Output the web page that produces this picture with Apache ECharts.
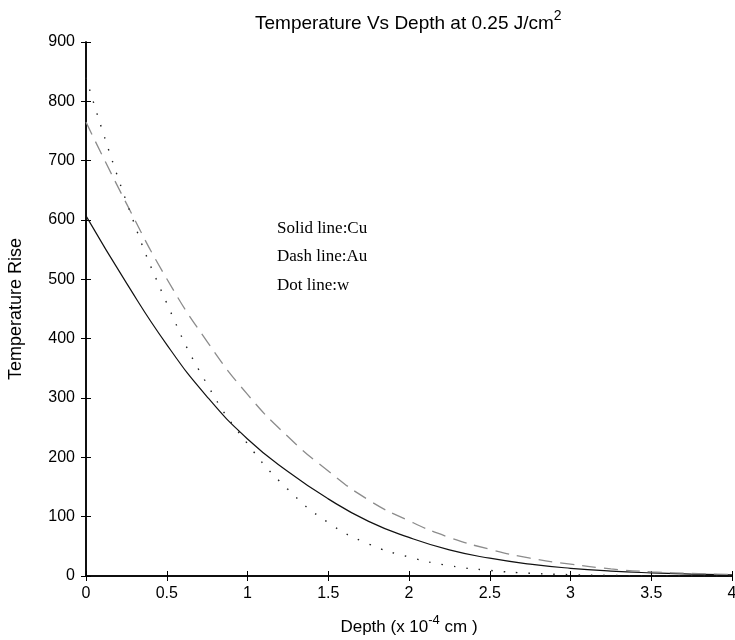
<!DOCTYPE html>
<html>
<head>
<meta charset="utf-8">
<script src="https://cdn.jsdelivr.net/npm/echarts@6/dist/echarts.min.js"></script>
<style>
  html, body { margin: 0; padding: 0; background: #fff; }
  #chart { width: 735px; height: 640px; }
</style>
</head>
<body>
<div id="chart"></div>
<script>
// depth, x 10^-4 cm
var depth = [0, 0.25, 0.5, 0.75, 1, 1.25, 1.5, 1.75, 2, 2.25, 2.5, 2.75, 3, 3.25, 3.5, 3.75, 4];
// temperature rise
var cu = [607, 494, 390, 302, 231, 176, 130, 92, 65, 44, 30, 20, 13, 8.3, 5.3, 3.3, 2];
var au = [765, 628, 501, 395, 306, 235, 177, 128, 93, 65, 45, 30, 20, 12, 7, 4.3, 2.5];
var w  = [840, 631, 460, 323, 223, 146, 90, 54, 32, 17.4, 9.4, 4.6, 2.2, 1, 0.5, 0.3, 0.2];

function pairs(ys) {
    var out = [];
    for (var i = 0; i < depth.length; i++) {
        out.push([depth[i], ys[i]]);
    }
    return out;
}

var chart = echarts.init(document.getElementById('chart'));
var font = 'Liberation Sans, Arial, sans-serif';
var tick = { show: true, inside: true, length: 5, lineStyle: { color: '#000', width: 1 } };
var line = { show: true, lineStyle: { color: '#000', width: 1.5 } };

var option = {
    animation: false,
    backgroundColor: '#fff',
    title: {
        text: '{a|Temperature Vs Depth at 0.25 J/cm}{s|2}',
        left: 250,
        top: 4,
        textStyle: {
            fontWeight: 'normal',
            rich: {
                a: { fontFamily: font, fontSize: 19, fontWeight: 'normal', color: '#000', verticalAlign: 'bottom', lineHeight: 24 },
                s: { fontFamily: font, fontSize: 14, fontWeight: 'normal', color: '#000', verticalAlign: 'top', lineHeight: 14 }
            }
        }
    },
    grid: { left: 86, right: 3, top: 42, bottom: 64, outerBoundsMode: 'none' },
    xAxis: [{
        type: 'value', min: 0, max: 4, interval: 0.5,
        axisLine: line, axisTick: tick, splitLine: { show: false },
        axisLabel: { color: '#000', fontFamily: font, fontSize: 16, margin: 10 },
        name: '{a|Depth (x 10}{s|-4}{a| cm )}',
        nameLocation: 'middle', nameGap: 38,
        nameTextStyle: {
            rich: {
                a: { fontFamily: font, fontSize: 17, color: '#000', verticalAlign: 'bottom', lineHeight: 22 },
                s: { fontFamily: font, fontSize: 13, color: '#000', verticalAlign: 'top', lineHeight: 12 }
            }
        }
    }, {
        type: 'value', min: 0, max: 4, interval: 0.5, position: 'top',
        axisLine: line, axisTick: tick, axisLabel: { show: false }, splitLine: { show: false }
    }],
    yAxis: [{
        type: 'value', min: 0, max: 900, interval: 100,
        axisLine: line, axisTick: tick, splitLine: { show: false },
        axisLabel: { color: '#000', fontFamily: font, fontSize: 16, margin: 11 },
        name: 'Temperature Rise', nameLocation: 'middle', nameGap: 61,
        nameTextStyle: { color: '#000', fontFamily: font, fontSize: 18 }
    }, {
        type: 'value', min: 0, max: 900, interval: 100, position: 'right',
        axisLine: line, axisTick: tick, axisLabel: { show: false }, splitLine: { show: false }
    }],
    graphic: [{
        type: 'text',
        left: 277,
        top: 214,
        style: {
            text: 'Solid line:Cu\nDash line:Au\nDot line:w',
            font: '17px "Liberation Serif", "Times New Roman", serif',
            fill: '#000',
            lineHeight: 28.5
        }
    }],
    series: [{
        name: 'Cu', type: 'line', data: pairs(cu), showSymbol: false,
        smooth: true,
        lineStyle: { color: '#111', width: 1.2, type: 'solid' }
    }, {
        name: 'Au', type: 'line', data: pairs(au), showSymbol: false,
        smooth: true,
        lineStyle: { color: '#8c8c8c', width: 1.3, type: [14, 8] }
    }, {
        name: 'w', type: 'line', data: pairs(w), showSymbol: false,
        smooth: true,
        lineStyle: { color: '#222', width: 1.4, type: [1.5, 11] }
    }]
};
chart.setOption(option);
</script>
</body>
</html>
